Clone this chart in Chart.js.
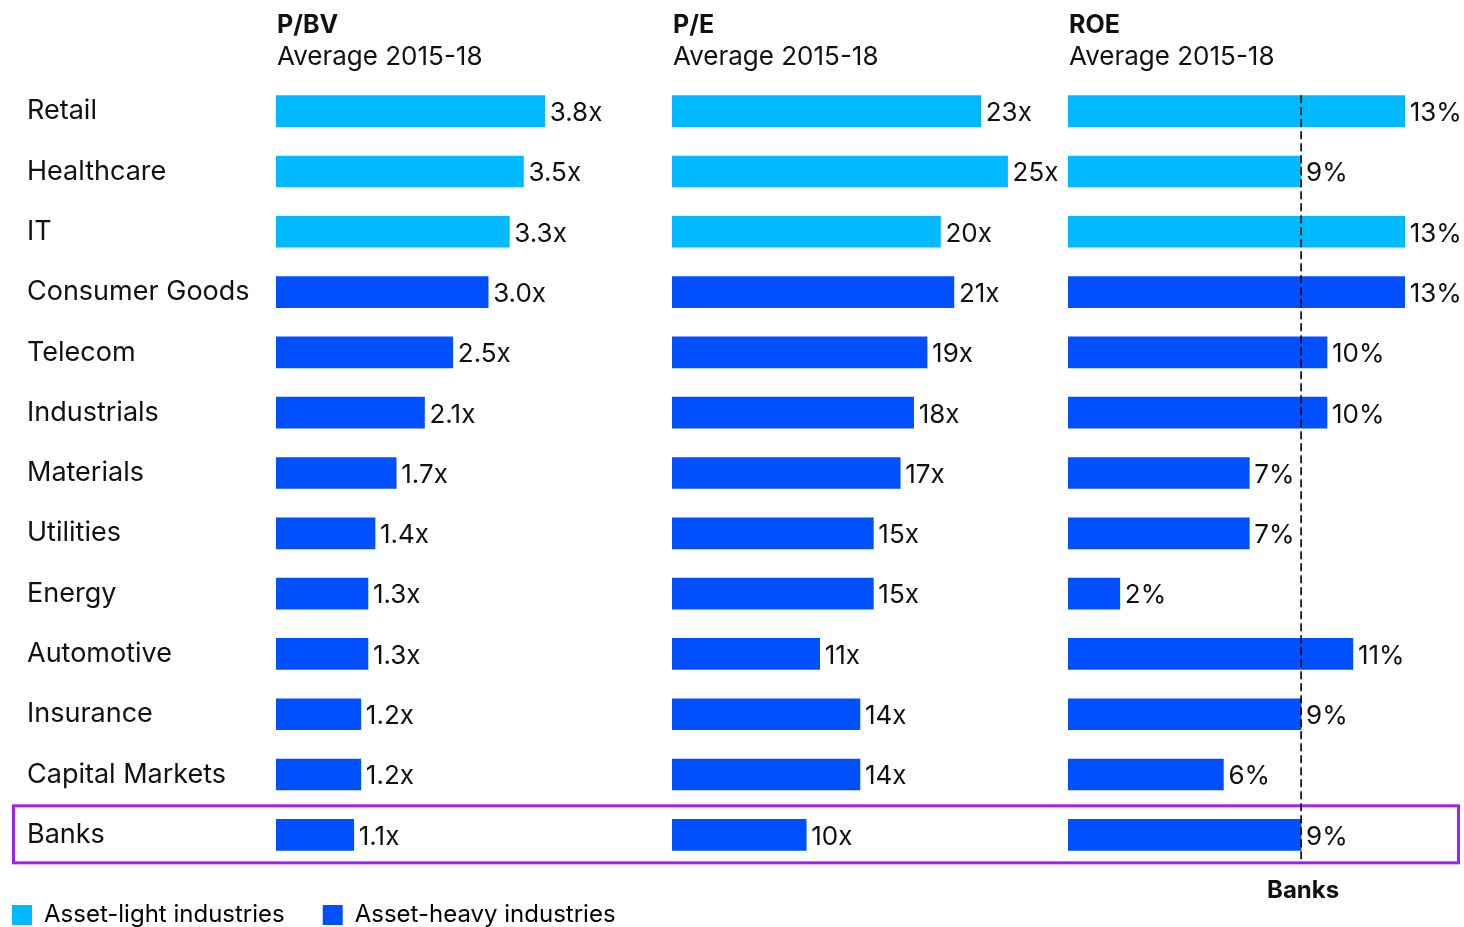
<!DOCTYPE html>
<html>
<head>
<meta charset="utf-8">
<script src="https://cdn.jsdelivr.net/npm/chart.js@4.4.0/dist/chart.umd.min.js"></script>
<style>
html, body { margin: 0; padding: 0; background: #fff; }
#wrap { position: relative; width: 1464px; height: 927px; }
</style>
</head>
<body>
<div id="wrap"><canvas id="mycanvas" width="1464" height="927"></canvas></div>
<script>
var industries = ['Retail', 'Healthcare', 'IT', 'Consumer Goods', 'Telecom', 'Industrials', 'Materials',
	'Utilities', 'Energy', 'Automotive', 'Insurance', 'Capital Markets', 'Banks'];
var assetType = ['light', 'light', 'light', 'heavy', 'heavy', 'heavy', 'heavy',
	'heavy', 'heavy', 'heavy', 'heavy', 'heavy', 'heavy'];
var pbv = [3.8, 3.5, 3.3, 3.0, 2.5, 2.1, 1.7, 1.4, 1.3, 1.3, 1.2, 1.2, 1.1];
var pe = [23, 25, 20, 21, 19, 18, 17, 15, 15, 11, 14, 14, 10];
var roe = [13, 9, 13, 13, 10, 10, 7, 7, 2, 11, 9, 6, 9];

var metricNames = ['P/BV', 'P/E', 'ROE'];
var period = 'Average 2015-18';
var valueSuffix = ['x', 'x', '%'];
var valueDecimals = [1, 0, 0];
var legendLabels = ['Asset-light industries', 'Asset-heavy industries'];
var highlightName = 'Banks';

var lightColor = '#00b9ff';
var heavyColor = '#0050ff';
var fontFamily = 'Inter, "Liberation Sans", sans-serif';

Chart.defaults.font.family = fontFamily;
Chart.defaults.color = '#111';

var barColors = assetType.map(function(t){ return t === 'light' ? lightColor : heavyColor; });

function makeSet(label, values, axis) {
	return {
		label: label,
		data: values,
		xAxisID: axis,
		backgroundColor: barColors,
		borderWidth: 0,
		grouped: false,
		barThickness: 31
	};
}

function panelAxis(max) {
	return { type: 'linear', position: 'bottom', stack: 'panels', stackWeight: 1, min: 0, max: max, display: false };
}

var panelPlugin = {
	id: 'panels',
	afterLayout: function(chart) {
		// legend swatch starts at the very left, not under the category column
		var lg = chart.legend;
		lg.left = 12 - chart.options.plugins.legend.labels.padding;
		lg.bottom = chart.height;
		lg.height = lg.bottom - lg.top;
	},
	afterDatasetsDraw: function(chart) {
		var ctx = chart.ctx;
		var ids = ['x', 'x2', 'x3'];
		var yS = chart.scales.y;
		var last = industries.indexOf(highlightName);
		var yc = yS.getPixelForValue(last);
		ctx.save();

		// highlight box round the Banks row
		ctx.strokeStyle = '#a020f0';
		ctx.lineWidth = 3;
		ctx.strokeRect(13.5, yc - 29, chart.width - 19, 57);

		// dashed reference line at Banks ROE
		var bx = chart.scales.x3.getPixelForValue(roe[last]);
		ctx.setLineDash([8, 4]);
		ctx.lineWidth = 1.6;
		ctx.strokeStyle = '#000';
		ctx.beginPath();
		ctx.moveTo(bx, yS.getPixelForValue(0) - 16);
		ctx.lineTo(bx, yc + 28);
		ctx.stroke();
		ctx.setLineDash([]);

		ctx.fillStyle = '#111';
		ctx.textBaseline = 'middle';
		ctx.textAlign = 'left';

		// panel headers
		ids.forEach(function(id, i){
			var s = chart.scales[id];
			ctx.font = 'bold 25px ' + fontFamily;
			ctx.fillText(metricNames[i], s.left + 1, 25);
			ctx.font = '26px ' + fontFamily;
			ctx.fillText(period, s.left + 1, 57);
		});

		// value labels
		ctx.font = '26px ' + fontFamily;
		chart.data.datasets.forEach(function(ds, di){
			var meta = chart.getDatasetMeta(di);
			meta.data.forEach(function(bar, j){
				var txt = ds.data[j].toFixed(valueDecimals[di]) + valueSuffix[di];
				ctx.fillText(txt, bar.x + 5, bar.y + 2);
			});
		});

		ctx.font = 'bold 24px ' + fontFamily;
		ctx.textAlign = 'center';
		ctx.fillText(highlightName, bx + 2, 891);
		ctx.restore();
	}
};

var ctx = document.getElementById('mycanvas');
var chart = new Chart(ctx, {
	type: 'bar',
	data: {
		labels: industries,
		datasets: [
			makeSet(metricNames[0], pbv, 'x'),
			makeSet(metricNames[1], pe, 'x2'),
			makeSet(metricNames[2], roe, 'x3')
		]
	},
	options: {
		indexAxis: 'y',
		responsive: false,
		animation: false,
		layout: { padding: { left: 27, right: 0, top: 81, bottom: 22 } },
		scales: {
			x: panelAxis(5.6),
			x2: panelAxis(29.5),
			x3: panelAxis(15.29),
			y: {
				grid: { display: false },
				border: { display: false },
				ticks: { crossAlign: 'far', color: '#111', font: { size: 27 } },
				afterFit: function(scale){ scale.width = 249; }
			}
		},
		plugins: {
			tooltip: { enabled: false },
			legend: {
				position: 'bottom',
				align: 'start',
				maxHeight: 40,
				onClick: null,
				labels: {
					boxWidth: 20,
					boxHeight: 20,
					padding: 38,
					color: '#111',
					font: { size: 24 },
					generateLabels: function(){
						return legendLabels.map(function(t, i){
							var c = i === 0 ? lightColor : heavyColor;
							return { text: t, fillStyle: c, strokeStyle: c, lineWidth: 0, hidden: false, datasetIndex: i };
						});
					}
				}
			}
		}
	},
	plugins: [panelPlugin]
});
</script>
</body>
</html>
